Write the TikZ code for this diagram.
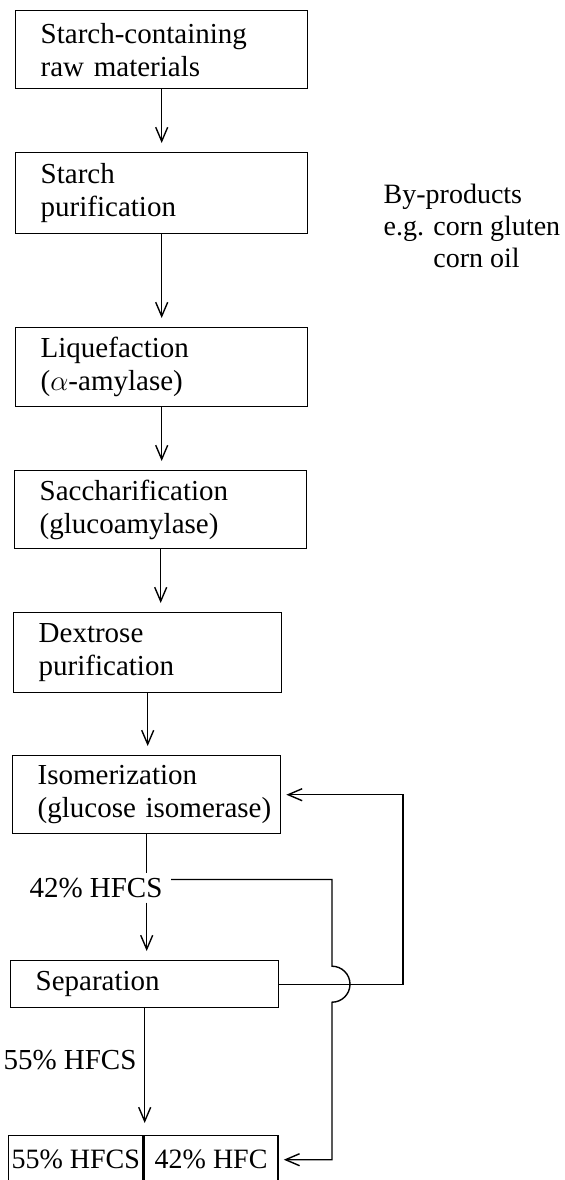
\documentclass[tikz,border=0pt]{standalone}
\usepackage{fontspec}
\setmainfont{Liberation Serif}
\usetikzlibrary{arrows.meta}
\tikzset{>={Straight Barb[length=7pt,width=6pt]}}
\tikzset{stage/.style = {draw, rectangle, anchor=north west, align=left,
                         inner xsep=12.5pt, inner ysep=0pt},
         wide/.style = {stage, text width=121pt, minimum width=146pt},
         narrow/.style = {stage, text width=109pt, minimum width=134pt},
         cell/.style = {draw, rectangle, anchor=north west, minimum width=67pt,
                        minimum height=24pt, inner sep=0pt,
                        font=\fontsize{14}{16}\selectfont},
         flow/.style = {->, shorten >=4.5pt},
         side/.style = {->, shorten >=2.5pt}}

\begin{document}
\begin{tikzpicture}[x=0.5pt, y=-0.5pt, line width=0.7pt,
                    font=\fontsize{14.5}{16.5}\selectfont]
    \useasboundingbox (0, 0) rectangle (564, 1180);

    \node [wide, minimum height=39pt] (raw) at (15, 10) {Starch-containing\\raw materials};
    \node [wide, minimum height=40.5pt] (purif) at (15, 152) {Starch\\purification};
    \node [wide, minimum height=39.5pt] (liq) at (15, 327) {Liquefaction\\($\alpha$-amylase)};
    \node [wide, minimum height=39pt] (sacch) at (14, 470) {Saccharification\\(glucoamylase)};
    \node [narrow, minimum height=40pt] (dex) at (13, 612) {Dextrose\\purification};
    \node [narrow, minimum height=39pt] (isom) at (12, 755) {Isomerization\\\mbox{(glucose isomerase)}};
    \node [narrow, minimum height=23.5pt] (sep) at (10, 960) {Separation};
    \node [cell] (hfcs55) at (8, 1135) {55\% HFCS};
    \node [cell] (hfc42) at (hfcs55.north east) {42\% HFC};

    \node [anchor=north west, align=left, inner sep=0pt, font=\fontsize{14}{16}\selectfont]
      (byprod) at (383, 183) {By-products\\e.g. corn gluten\\\phantom{e.g. }corn oil};
    \node [inner sep=2pt] (lbl42) at (96, 888) {42\% HFCS};
    \node [inner sep=2pt] (lbl55) at (70, 1060) {55\% HFCS};

    \coordinate (back) at (403, 0);
    \coordinate (hop) at (332, 0);

    \draw [flow] (raw.south) -- (raw.south |- purif.north);
    \draw [flow] (purif.south) -- (purif.south |- liq.north);
    \draw [flow] (liq.south) -- (liq.south |- sacch.north);
    \draw [flow] (sacch.south) -- (sacch.south |- dex.north);
    \draw [flow] (dex.south) -- (dex.south |- isom.north);
    \draw (isom.south) -- (isom.south |- lbl42.north);
    \draw [flow] (isom.south |- lbl42.south) -- (isom.south |- sep.north);
    \draw [flow, shorten >=6pt] (sep.south) -- (sep.south |- hfcs55.north);

    % recycle and bypass
    \draw [side] (sep.east) -| (back |- isom.east) -- (isom.east);
    \draw [side] ([shift={(2pt,-3pt)}]lbl42.north east) -| ([yshift=9pt]hop |- sep.east)
      arc [start angle=90, end angle=-90, radius=9pt] |- (hfc42.east);
\end{tikzpicture}
\end{document}
